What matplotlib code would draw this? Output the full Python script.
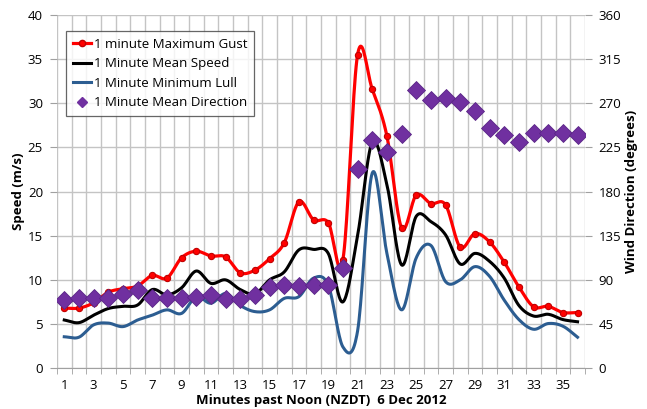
import numpy as np
import matplotlib.pyplot as plt
from matplotlib.lines import Line2D

plt.rcParams['font.family'] = ['Open Sans', 'DejaVu Sans']

minutes = np.arange(1, 37)

gust = [6.8, 6.8, 7.4, 8.6, 9.0, 9.3, 10.5, 10.2, 12.5, 13.25, 12.7, 12.6,
        10.8, 11.1, 12.4, 14.2, 18.85, 16.8, 16.5, 12.3, 35.5, 31.6, 26.3, 15.9,
        19.6, 18.65, 18.5, 13.7, 15.25, 14.3, 12.0, 9.2, 6.95, 7.0, 6.3, 6.3]

mean_speed = [5.45, 5.15, 6.0, 6.75, 7.0, 7.15, 8.9, 8.3, 9.1, 11.0, 9.6, 10.0,
              8.9, 8.4, 10.0, 10.9, 13.4, 13.45, 13.0, 7.5, 15.0, 25.6, 20.8, 11.7,
              17.2, 16.6, 15.1, 11.8, 13.0, 12.1, 10.2, 7.1, 5.9, 6.1, 5.5, 5.25]

lull = [3.55, 3.5, 4.9, 5.1, 4.7, 5.45, 6.0, 6.6, 6.2, 8.1, 7.35, 8.45,
        7.1, 6.4, 6.6, 7.9, 8.1, 10.2, 9.4, 2.4, 4.2, 22.1, 13.0, 6.6,
        12.5, 13.9, 9.8, 10.0, 11.5, 10.4, 7.7, 5.5, 4.4, 5.05, 4.75, 3.5]

direction = [69, 72, 71, 71, 76, 80, 71, 71, 72, 73, 75, 70,
             70, 75, 83, 85, 84, 85, 85, 102, 203, 233, 220, 239,
             284, 273, 275, 271, 262, 245, 238, 231, 240, 240, 240, 238]

odd_labels = [str(m) for m in minutes[::2]]


def smooth(x, y, n=20):
    # Catmull-Rom curve through every point, like a spreadsheet "smoothed line"
    x = np.asarray(x, float)
    y = np.asarray(y, float)
    px = np.concatenate([[2 * x[0] - x[1]], x, [2 * x[-1] - x[-2]]])
    py = np.concatenate([[2 * y[0] - y[1]], y, [2 * y[-1] - y[-2]]])
    xs, ys = [], []
    t = np.linspace(0, 1, n, endpoint=False)
    for i in range(1, len(px) - 2):
        for p, out in ((px, xs), (py, ys)):
            p0, p1, p2, p3 = p[i - 1], p[i], p[i + 1], p[i + 2]
            c1 = p1 + (p2 - p0) / 6
            c2 = p2 - (p3 - p1) / 6
            out.extend((1 - t) ** 3 * p1 + 3 * (1 - t) ** 2 * t * c1
                       + 3 * (1 - t) * t ** 2 * c2 + t ** 3 * p2)
    xs.append(x[-1])
    ys.append(y[-1])
    return np.array(xs), np.array(ys)


fig = plt.figure(figsize=(6.47, 4.09), dpi=100)
ax = fig.add_axes([0.088, 0.100, 0.816, 0.863])
ax2 = ax.twinx()

red = '#ff0000'
blue = '#2c5d91'
purple = '#7030a0'

ax.plot(*smooth(minutes, gust), color=red, lw=2.3, zorder=3)
ax.plot(minutes, gust, 'o', color=red, ms=4.5, mec='#c00000', mew=0.8, zorder=4)
ax.plot(*smooth(minutes, mean_speed), color='black', lw=2.2, zorder=3)
ax.plot(*smooth(minutes, lull), color=blue, lw=2.2, zorder=3)
ax2.plot(minutes, direction, 'D', color=purple, ms=9.5, mec='#5a2586', mew=0.6)

ax.set_xlim(0.5, 36.5)
ax.set_ylim(0, 40)
ax2.set_ylim(0, 360)
ax.set_yticks(np.arange(0, 41, 5))
ax2.set_yticks(np.arange(0, 361, 45))
ax.set_xticks(minutes[::2])
ax.set_xticklabels(odd_labels)
ax.set_xticks(np.arange(0.5, 37, 1), minor=True)

grid_col = '#c4c4c4'
ax.grid(True, axis='y', color=grid_col, lw=1.0)
ax.grid(True, axis='x', which='minor', color=grid_col, lw=1.0)
ax.set_axisbelow(True)

for a in (ax, ax2):
    for s in a.spines.values():
        s.set_visible(False)
ax.spines['bottom'].set_visible(True)
ax.spines['bottom'].set_color('#a0a0a0')

ax.tick_params(axis='x', which='major', length=0, pad=8, labelsize=9.5)
ax.tick_params(axis='x', which='minor', length=4, color='#a0a0a0')
ax.tick_params(axis='y', length=5, color='#a0a0a0', labelsize=9.5, pad=5)
ax2.tick_params(axis='y', length=5, color='#a0a0a0', labelsize=9.5, pad=5)

ax.set_xlabel('Minutes past Noon (NZDT)  6 Dec 2012', fontsize=9.5,
              fontweight='bold')
ax.set_ylabel('Speed (m/s)', fontsize=9.5, fontweight='bold')
ax2.set_ylabel('Wind Direction (degrees)', fontsize=9.5, fontweight='bold')
ax.xaxis.set_label_coords(0.5, -0.072)
ax.yaxis.set_label_coords(-0.06, 0.5)
ax2.yaxis.set_label_coords(1.076, 0.5)

handles = [
    Line2D([], [], color=red, lw=2.3, marker='o', ms=4.5, mec='#c00000'),
    Line2D([], [], color='black', lw=2.2),
    Line2D([], [], color=blue, lw=2.2),
    Line2D([], [], ls='', marker='D', color=purple, ms=5),
]
labels = ['1 minute Maximum Gust', '1 Minute Mean Speed',
          '1 Minute Minimum Lull', '1 Minute Mean Direction']
leg = ax2.legend(handles, labels, loc='upper left',
                 bbox_to_anchor=(0.017, 0.955), borderaxespad=0,
                 fontsize=9.5, frameon=True, fancybox=False,
                 edgecolor='#404040', handlelength=1.4, handletextpad=0.2,
                 labelspacing=0.5, borderpad=0.5)
leg.get_frame().set_linewidth(0.9)

fig.savefig('out.png', dpi=100)
